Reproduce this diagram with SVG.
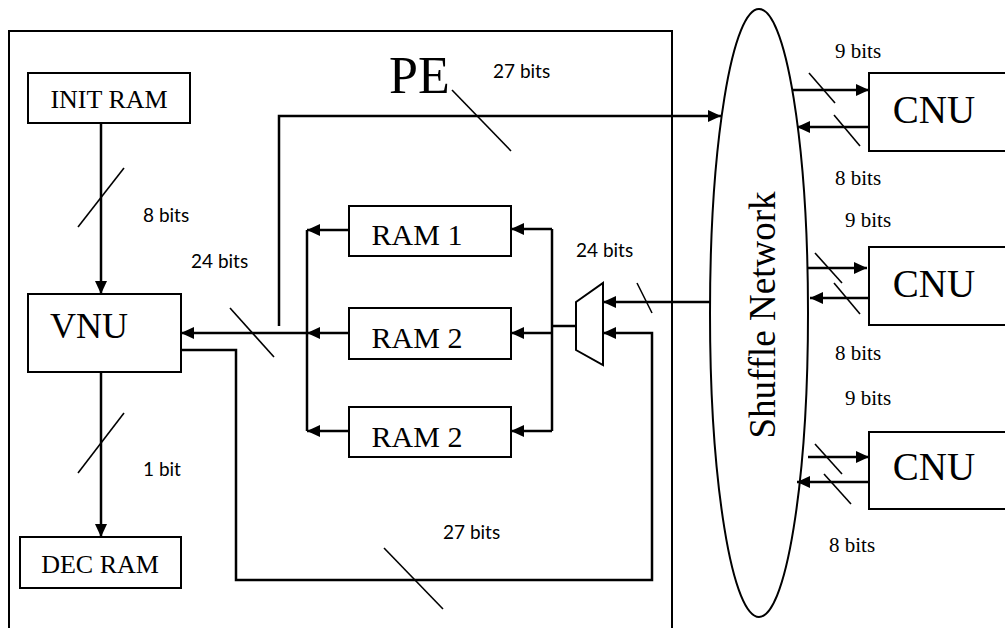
<svg xmlns="http://www.w3.org/2000/svg" width="1006" height="628" viewBox="0 0 1006 628">
<style>
.box{fill:#fff;stroke:#000;stroke-width:2}
.ln{fill:none;stroke:#000;stroke-width:2.5}
.sl{fill:none;stroke:#000;stroke-width:1.6}
.ser{font-family:"Liberation Serif","Times New Roman",serif;fill:#000}
.san{font-family:Lato,"Open Sans",sans-serif;font-size:19px;fill:#000}
.lb{font-family:"Liberation Serif","Times New Roman",serif;font-size:21px;fill:#000}
</style>
<defs>
<marker id="ah" markerUnits="userSpaceOnUse" markerWidth="14" markerHeight="12" refX="13" refY="6" orient="auto">
<path d="M0,0 L13,6 L0,12 z" fill="#000"/>
</marker>
</defs>
<rect width="1006" height="628" fill="#fff"/>
<g id="pe">
<path d="M9,628 V31 H672 V628" fill="none" stroke="#000" stroke-width="2"/>
<text class="ser" x="389" y="93" font-size="52">PE</text>
</g>
<g id="init-ram"><rect class="box" x="28" y="73" width="162" height="50"/><text class="ser" x="109" y="108" font-size="26" text-anchor="middle">INIT RAM</text></g>
<g id="vnu"><rect class="box" x="28" y="294" width="153" height="78"/><text class="ser" x="89" y="338" font-size="36" text-anchor="middle">VNU</text></g>
<g id="dec-ram"><rect class="box" x="20" y="537" width="161" height="51"/><text class="ser" x="100" y="573" font-size="26" text-anchor="middle">DEC RAM</text></g>
<g id="ram1"><rect class="box" x="349" y="206" width="162" height="50"/><text class="ser" x="417" y="245" font-size="30" text-anchor="middle">RAM 1</text></g>
<g id="ram2a"><rect class="box" x="349" y="308" width="162" height="51"/><text class="ser" x="417" y="348" font-size="30" text-anchor="middle">RAM 2</text></g>
<g id="ram2b"><rect class="box" x="349" y="407" width="162" height="50"/><text class="ser" x="417" y="447" font-size="30" text-anchor="middle">RAM 2</text></g>
<g id="mux"><polygon points="576,302 603,283 603,365 576,350" fill="#fff" stroke="#000" stroke-width="2"/></g>
<g id="shuffle">
<ellipse cx="759" cy="313" rx="49" ry="304" fill="none" stroke="#000" stroke-width="2"/>
<text class="ser" font-size="37" text-anchor="middle" transform="translate(775,315) rotate(-90)">Shuffle Network</text>
</g>
<g id="cnu1"><path class="box" d="M1005,73 H869 V151 H1005"/><text class="ser" x="934" y="123" font-size="39" text-anchor="middle">CNU</text></g>
<g id="cnu2"><path class="box" d="M1005,247 H869 V325 H1005"/><text class="ser" x="934" y="297" font-size="39" text-anchor="middle">CNU</text></g>
<g id="cnu3"><path class="box" d="M1005,432 H869 V509 H1005"/><text class="ser" x="934" y="480" font-size="39" text-anchor="middle">CNU</text></g>
<g id="connectors">
<path class="ln" d="M101,123 V294" marker-end="url(#ah)"/>
<path class="ln" d="M101,372 V537" marker-end="url(#ah)"/>
<path class="ln" d="M307,333 H181" marker-end="url(#ah)"/>
<path class="ln" d="M279,326 V116 H721" marker-end="url(#ah)"/>
<path class="ln" d="M307,230 V431"/>
<path class="ln" d="M349,230 H307" marker-end="url(#ah)"/>
<path class="ln" d="M349,333 H307" marker-end="url(#ah)"/>
<path class="ln" d="M349,431 H307" marker-end="url(#ah)"/>
<path class="ln" d="M552,229 V431"/>
<path class="ln" d="M552,229 H511" marker-end="url(#ah)"/>
<path class="ln" d="M552,333 H511" marker-end="url(#ah)"/>
<path class="ln" d="M552,431 H511" marker-end="url(#ah)"/>
<path class="ln" d="M576,326 H552" stroke-width="2"/>
<path class="ln" d="M710,302 H603" marker-end="url(#ah)"/>
<path class="ln" d="M181,350 H236 V580 H652 V333 H603" marker-end="url(#ah)"/>
<path class="ln" d="M793,90 H869" marker-end="url(#ah)"/>
<path class="ln" d="M869,127 H797" marker-end="url(#ah)"/>
<path class="ln" d="M808,268 H867" marker-end="url(#ah)"/>
<path class="ln" d="M869,298 H810" marker-end="url(#ah)"/>
<path class="ln" d="M808,457 H869" marker-end="url(#ah)"/>
<path class="ln" d="M869,482 H797" marker-end="url(#ah)"/>
<path class="sl" d="M124,168 L78,227"/>
<path class="sl" d="M124,413 L78,473"/>
<path class="sl" d="M230,308 L274,357"/>
<path class="sl" d="M452,90 L511,151"/>
<path class="sl" d="M637,283 L652,313"/>
<path class="sl" d="M384,548 L443,609"/>
<path class="sl" d="M809,73 L835,103"/>
<path class="sl" d="M834,115 L860,146"/>
<path class="sl" d="M815,253 L842,283"/>
<path class="sl" d="M834,283 L860,314"/>
<path class="sl" d="M815,444 L842,474"/>
<path class="sl" d="M824,474 L851,504"/>
</g>
<g id="labels">
<text class="san" x="143" y="222">8 bits</text>
<text class="san" x="143" y="476">1 bit</text>
<text class="san" x="191" y="268">24 bits</text>
<text class="san" x="493" y="78">27 bits</text>
<text class="san" x="576" y="257">24 bits</text>
<text class="san" x="443" y="539">27 bits</text>
<text class="lb" x="835" y="58">9 bits</text>
<text class="lb" x="835" y="185">8 bits</text>
<text class="lb" x="845" y="227">9 bits</text>
<text class="lb" x="835" y="360">8 bits</text>
<text class="lb" x="845" y="405">9 bits</text>
<text class="lb" x="829" y="552">8 bits</text>
</g>
</svg>
